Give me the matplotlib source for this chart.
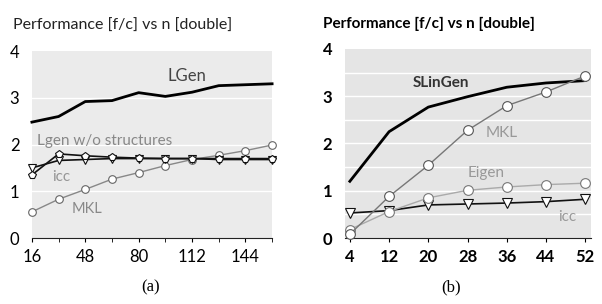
import matplotlib
matplotlib.use('Agg')
import matplotlib.pyplot as plt

# panel (a)
n_a = [16, 32, 48, 64, 80, 96, 112, 128, 144, 160]
lgen_a = [2.48, 2.60, 2.92, 2.94, 3.11, 3.03, 3.12, 3.26, 3.28, 3.30]
lgen_nostruct_a = [1.35, 1.80, 1.76, 1.73, 1.71, 1.70, 1.70, 1.70, 1.70, 1.70]
icc_a = [1.50, 1.66, 1.68, 1.70, 1.70, 1.70, 1.70, 1.68, 1.68, 1.68]
mkl_a = [0.56, 0.83, 1.04, 1.26, 1.40, 1.55, 1.68, 1.77, 1.87, 1.99]
xticks_a = [16, 48, 80, 112, 144]

# panel (b)
n_b = [4, 12, 20, 28, 36, 44, 52]
slingen_b = [1.20, 2.25, 2.77, 2.99, 3.19, 3.28, 3.33]
mkl_b = [0.08, 0.88, 1.54, 2.28, 2.80, 3.09, 3.43]
eigen_b = [0.18, 0.56, 0.85, 1.01, 1.08, 1.13, 1.16]
icc_b = [0.53, 0.58, 0.70, 0.72, 0.74, 0.77, 0.82]

title = 'Performance [f/c] vs n [double]'

plt.rcParams['font.family'] = ['Lato', 'DejaVu Sans']

fig = plt.figure(figsize=(6.02, 3.04), dpi=100)
ax1 = fig.add_axes([0.053, 0.217, 0.399, 0.615])
ax2 = fig.add_axes([0.573, 0.217, 0.409, 0.622])

for ax in (ax1, ax2):
    ax.set_facecolor('#ebebeb')
    for s in ('top', 'right', 'left'):
        ax.spines[s].set_visible(False)
    ax.spines['bottom'].set_color('#222222')
    ax.set_ylim(0, 4)
    ax.set_yticks([0, 1, 2, 3, 4])
    ax.tick_params(axis='y', length=0, pad=9, labelsize=12)
    ax.tick_params(axis='x', length=3, labelsize=12, pad=5)

# (a)
ax1.set_xlim(16, 160)
ax1.set_xticks(n_a, minor=True)
ax1.set_xticks(xticks_a)
ax1.tick_params(axis='x', which='minor', length=3)
for v in (1, 2, 3):
    ax1.axhline(v, color='white', lw=1, zorder=0.5)
ax1.plot(n_a, mkl_a, color='#888888', lw=1, marker='o', ms=5.5,
         mfc='white', mec='#666666', mew=0.8, clip_on=False, zorder=3)
ax1.plot(n_a, icc_a, color='#111111', lw=1.2, marker='v', ms=5.5,
         mfc='white', mec='#111111', mew=0.8, clip_on=False, zorder=3)
ax1.plot(n_a, lgen_nostruct_a, color='#111111', lw=1.2, marker='p', ms=5.5,
         mfc='white', mec='#111111', mew=0.8, clip_on=False, zorder=4)
ax1.plot(n_a, lgen_a, color='black', lw=2, clip_on=False, zorder=3)
ax1.text(97.5, 3.36, 'LGen', fontsize=12, color='#444444')
ax1.text(19, 1.98, 'Lgen w/o structures', fontsize=11, color='#888888')
ax1.text(28, 1.23, 'icc', fontsize=11, color='#969696')
ax1.text(40, 0.53, 'MKL', fontsize=10.5, color='#888888')
ax1.text(-0.08, 4.45, title, fontsize=11.5, color='#222222',
         transform=ax1.get_yaxis_transform())
fig.text(0.25, 0.04, '(a)', fontsize=12, family='Liberation Serif',
         ha='center')

# (b)
ax2.set_xlim(3, 53.2)
ax2.set_xticks(n_b)
ax2.set_facecolor('#e5e5e5')
for v in (0.5, 1, 1.5, 2, 2.5, 3, 3.5):
    ax2.axhline(v, color='white', lw=1, zorder=0.5)
for lbl in ax2.get_xticklabels() + ax2.get_yticklabels():
    lbl.set_fontweight('bold')
ax2.plot(n_b, icc_b, color='#111111', lw=1.2, marker='v', ms=7,
         mfc='white', mec='#111111', mew=0.8, clip_on=False, zorder=3)
ax2.plot(n_b, eigen_b, color='#aaaaaa', lw=1, marker='o', ms=7,
         mfc='white', mec='#777777', mew=0.8, clip_on=False, zorder=3)
ax2.plot(n_b, mkl_b, color='#777777', lw=1, marker='o', ms=7,
         mfc='white', mec='#555555', mew=0.8, clip_on=False, zorder=4)
ax2.plot(n_b, slingen_b, color='black', lw=2, clip_on=False, zorder=3)
ax2.text(16.9, 3.2, 'SLinGen', fontsize=11, color='#333333',
         fontweight='bold')
ax2.text(31.6, 2.14, 'MKL', fontsize=11, color='#999999')
ax2.text(28.1, 1.3, 'Eigen', fontsize=11, color='#999999')
ax2.text(46.5, 0.35, 'icc', fontsize=11, color='#999999')
ax2.text(-0.09, 4.44, title, fontsize=11, color='black', fontweight='bold',
         transform=ax2.get_yaxis_transform())
fig.text(0.749, 0.04, '(b)', fontsize=12, family='Liberation Serif',
         ha='center')

fig.savefig('out.png', dpi=100)
